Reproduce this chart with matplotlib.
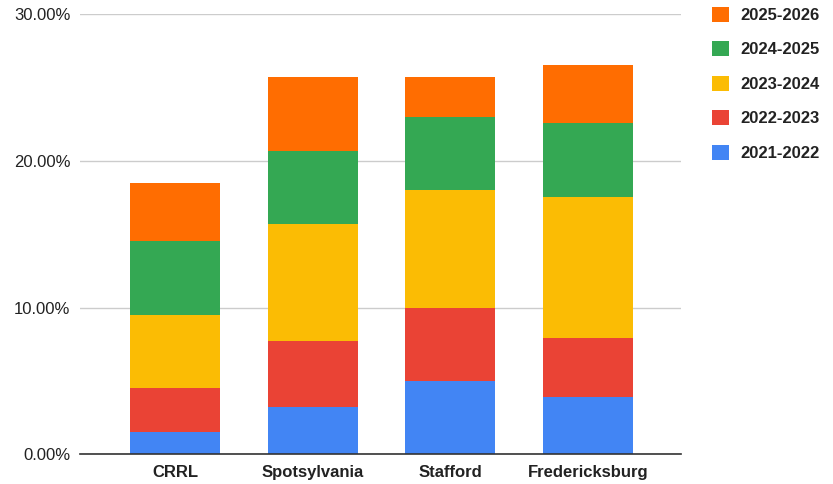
import matplotlib.pyplot as plt
import numpy as np
from matplotlib.ticker import FuncFormatter

plt.rcParams["font.family"] = ["Liberation Sans", "DejaVu Sans"]

regions = ["CRRL", "Spotsylvania", "Stafford", "Fredericksburg"]
years = ["2021-2022", "2022-2023", "2023-2024", "2024-2025", "2025-2026"]
# percent values per year (stacked)
y2021 = [1.5, 3.2, 5.0, 3.9]
y2022 = [3.0, 4.5, 5.0, 4.0]
y2023 = [5.0, 8.0, 8.0, 9.65]
y2024 = [5.0, 5.0, 5.0, 5.0]
y2025 = [4.0, 5.0, 2.7, 4.0]
series = [y2021, y2022, y2023, y2024, y2025]
colors = ["#4285F4", "#EA4335", "#FBBC04", "#34A853", "#FF6D01"]

fig = plt.figure(figsize=(8.33, 4.84), dpi=100)
ax = fig.add_axes([0.096, 0.0614, 0.7215, 0.9096])

x = np.arange(len(regions))
bottom = np.zeros(len(regions))
handles = []
for vals, col, lab in zip(series, colors, years):
    h = ax.bar(x, vals, bottom=bottom, width=0.654, color=col, label=lab, zorder=3)
    handles.append(h)
    bottom += np.array(vals)

ax.set_xlim(-0.69, 3.675)
ax.set_ylim(0, 30)
ax.set_yticks([0, 10, 20, 30])
ax.yaxis.set_major_formatter(FuncFormatter(lambda v, p: f"{v:.2f}%"))
ax.grid(axis="y", color="#cccccc", linewidth=1, zorder=0)
for s in ["top", "right", "left"]:
    ax.spines[s].set_visible(False)
ax.spines["bottom"].set_color("#333333")
ax.spines["bottom"].set_linewidth(1.2)
ax.spines["bottom"].set_zorder(4)
ax.tick_params(axis="both", length=0, labelsize=12, colors="#222222")
ax.tick_params(axis="y", pad=7)
ax.tick_params(axis="x", pad=8)
ax.set_xticks(x)
ax.set_xticklabels(regions, fontweight="bold")

leg = fig.legend(handles[::-1], years[::-1], loc="upper left",
                 bbox_to_anchor=(0.847, 1.0), frameon=False, borderaxespad=0,
                 handlelength=1.0, handleheight=1.0, handletextpad=0.7,
                 labelspacing=1.1, prop={"weight": "bold", "size": 12})
for t in leg.get_texts():
    t.set_color("#222222")

plt.savefig("out.png", dpi=100)
